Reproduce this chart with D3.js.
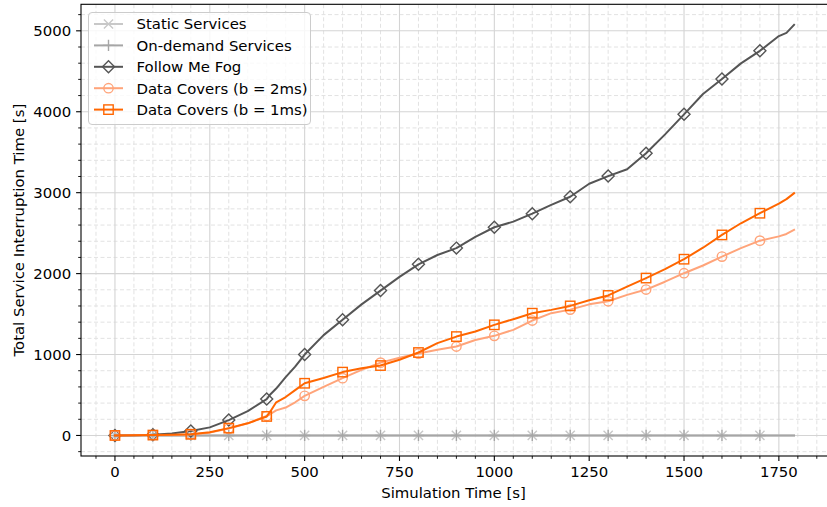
<!DOCTYPE html>
<html>
<head>
<meta charset="utf-8">
<script src="https://cdn.jsdelivr.net/npm/d3@7/dist/d3.min.js"></script>
<style>
  html, body { margin: 0; padding: 0; background: #fff; }
  svg { display: block; font-family: "DejaVu Sans", sans-serif; }
</style>
</head>
<body>
<svg id="chart" width="827" height="507"></svg>
<script>
// Simulation time samples [s]
const times = [0, 50, 100, 150, 200, 250, 300, 350, 400, 410, 425, 450, 475, 500, 550, 600, 650, 700, 750,
  800, 850, 900, 950, 1000, 1050, 1100, 1150, 1200, 1250, 1300, 1350, 1400, 1450, 1500, 1550,
  1600, 1650, 1700, 1750, 1770, 1790];

// Total service interruption time [s] per strategy
const staticServices = times.map(() => 0);
const onDemandServices = times.map(() => 0);
const followMeFog = [0, 3, 10, 25, 55, 100, 190, 300, 450, 510, 580, 720, 850, 1000, 1240, 1430, 1620, 1790, 1960,
  2115, 2230, 2315, 2455, 2573, 2642, 2741, 2850, 2950, 3110, 3205, 3290, 3488, 3720, 3968, 4220,
  4405, 4598, 4753, 4935, 4975, 5074];
const dataCovers2ms = [0, 2, 5, 7, 12, 35, 85, 150, 240, 265, 310, 345, 410, 490, 600, 708, 810, 900, 960,
  1012, 1060, 1099, 1180, 1231, 1305, 1420, 1511, 1555, 1620, 1658, 1737, 1803, 1900, 2005, 2100,
  2210, 2315, 2407, 2460, 2490, 2540];
const dataCovers1ms = [0, 2, 5, 8, 15, 40, 91, 150, 235, 300, 410, 475, 560, 645, 710, 783, 830, 864, 935,
  1025, 1141, 1222, 1284, 1367, 1437, 1511, 1552, 1601, 1670, 1730, 1840, 1945, 2055, 2178, 2320,
  2478, 2622, 2746, 2865, 2920, 2993];

const seriesNames = ["Static Services", "On-demand Services", "Follow Me Fog", "Data Covers (b = 2ms)", "Data Covers (b = 1ms)"];
const seriesValues = [staticServices, onDemandServices, followMeFog, dataCovers2ms, dataCovers1ms];
const seriesColors = ["#c8c8c8", "#a6a6a6", "#555555", "#ffa47a", "#ff6600"];
const seriesMarkers = ["x", "plus", "diamond", "circle", "square"];

const xTicks = [0, 250, 500, 750, 1000, 1250, 1500, 1750];
const yTicks = [0, 1000, 2000, 3000, 4000, 5000];
const markerEvery = 100;

const svg = d3.select("#chart");
const plot = { left: 81, right: 828, top: 4.3, bottom: 456 };

const x = d3.scaleLinear().domain([-89.5, 1879.5]).range([plot.left, plot.right]);
const y = d3.scaleLinear().domain([-253.7, 5327.7]).range([plot.bottom, plot.top]);

const fontSize = 14.9;

svg.append("defs").append("clipPath").attr("id", "clip")
  .append("rect").attr("x", plot.left).attr("y", plot.top)
  .attr("width", plot.right - plot.left).attr("height", plot.bottom - plot.top);

const xMinor = d3.range(-50, 1880, 50).filter(v => !xTicks.includes(v));
const yMinor = d3.range(-200, 5400, 200).filter(v => !yTicks.includes(v));

// grid
const grid = svg.append("g").attr("clip-path", "url(#clip)");
grid.selectAll(".xmg").data(xMinor).enter().append("line")
  .attr("x1", d => x(d)).attr("x2", d => x(d)).attr("y1", plot.top).attr("y2", plot.bottom)
  .attr("stroke", "#e2e2e2").attr("stroke-width", 1).attr("stroke-dasharray", "4,2.5");
grid.selectAll(".ymg").data(yMinor).enter().append("line")
  .attr("y1", d => y(d)).attr("y2", d => y(d)).attr("x1", plot.left).attr("x2", plot.right)
  .attr("stroke", "#e2e2e2").attr("stroke-width", 1).attr("stroke-dasharray", "4,2.5");
grid.selectAll(".xg").data(xTicks).enter().append("line")
  .attr("x1", d => x(d)).attr("x2", d => x(d)).attr("y1", plot.top).attr("y2", plot.bottom)
  .attr("stroke", "#d4d4d4").attr("stroke-width", 1.1);
grid.selectAll(".yg").data(yTicks).enter().append("line")
  .attr("y1", d => y(d)).attr("y2", d => y(d)).attr("x1", plot.left).attr("x2", plot.right)
  .attr("stroke", "#d4d4d4").attr("stroke-width", 1.1);

// marker drawing
function drawMarker(g, type, cx, cy, color) {
  const s = 4.6;
  if (type === "x") {
    g.append("path").attr("d", `M${cx - s},${cy - s}L${cx + s},${cy + s}M${cx - s},${cy + s}L${cx + s},${cy - s}`)
      .attr("stroke", color).attr("stroke-width", 1.4).attr("fill", "none");
  } else if (type === "plus") {
    const p = 5.6;
    g.append("path").attr("d", `M${cx - p},${cy}L${cx + p},${cy}M${cx},${cy - p}L${cx},${cy + p}`)
      .attr("stroke", color).attr("stroke-width", 1.4).attr("fill", "none");
  } else if (type === "diamond") {
    const d = 6;
    g.append("path").attr("d", `M${cx},${cy - d}L${cx + d},${cy}L${cx},${cy + d}L${cx - d},${cy}Z`)
      .attr("stroke", color).attr("stroke-width", 1.4).attr("fill", "none");
  } else if (type === "circle") {
    g.append("circle").attr("cx", cx).attr("cy", cy).attr("r", 4.7)
      .attr("stroke", color).attr("stroke-width", 1.4).attr("fill", "none");
  } else if (type === "square") {
    const q = 4.7;
    g.append("rect").attr("x", cx - q).attr("y", cy - q).attr("width", 2 * q).attr("height", 2 * q)
      .attr("stroke", color).attr("stroke-width", 1.4).attr("fill", "none");
  }
}

// series
const lineGen = d3.line().x(d => x(d[0])).y(d => y(d[1]));
const marks = svg.append("g").attr("clip-path", "url(#clip)");
seriesValues.forEach((vals, i) => {
  const pts = times.map((t, j) => [t, vals[j]]);
  const g = marks.append("g");
  g.append("path").datum(pts).attr("d", lineGen)
    .attr("fill", "none").attr("stroke", seriesColors[i]).attr("stroke-width", 2)
    .attr("stroke-linejoin", "round").attr("stroke-linecap", "square");
  pts.filter(p => p[0] % markerEvery === 0).forEach(p => {
    drawMarker(g, seriesMarkers[i], x(p[0]), y(p[1]), seriesColors[i]);
  });
});

// axes
const axisG = svg.append("g");
// spines
axisG.append("rect").attr("x", plot.left).attr("y", plot.top)
  .attr("width", plot.right - plot.left).attr("height", plot.bottom - plot.top)
  .attr("fill", "none").attr("stroke", "#000").attr("stroke-width", 1.1);

// x ticks
axisG.selectAll(".xt").data(xTicks).enter().append("line")
  .attr("x1", d => x(d)).attr("x2", d => x(d)).attr("y1", plot.bottom).attr("y2", plot.bottom + 4.9)
  .attr("stroke", "#000").attr("stroke-width", 1.1);
axisG.selectAll(".xmt").data(xMinor).enter().append("line")
  .attr("x1", d => x(d)).attr("x2", d => x(d)).attr("y1", plot.bottom).attr("y2", plot.bottom + 2.8)
  .attr("stroke", "#000").attr("stroke-width", 0.9);
axisG.selectAll(".xl").data(xTicks).enter().append("text")
  .attr("x", d => x(d)).attr("y", plot.bottom + 9.6).attr("dy", "0.76em")
  .attr("text-anchor", "middle").attr("font-size", fontSize).attr("fill", "#000")
  .text(d => d);

// y ticks
axisG.selectAll(".yt").data(yTicks).enter().append("line")
  .attr("y1", d => y(d)).attr("y2", d => y(d)).attr("x1", plot.left).attr("x2", plot.left - 4.9)
  .attr("stroke", "#000").attr("stroke-width", 1.1);
axisG.selectAll(".ymt").data(yMinor).enter().append("line")
  .attr("y1", d => y(d)).attr("y2", d => y(d)).attr("x1", plot.left).attr("x2", plot.left - 2.8)
  .attr("stroke", "#000").attr("stroke-width", 0.9);
axisG.selectAll(".yl").data(yTicks).enter().append("text")
  .attr("x", plot.left - 9.8).attr("y", d => y(d)).attr("dy", "0.36em")
  .attr("text-anchor", "end").attr("font-size", fontSize).attr("fill", "#000")
  .text(d => d);

// axis titles
svg.append("text").attr("x", (plot.left + plot.right) / 2 - 1).attr("y", 498)
  .attr("text-anchor", "middle").attr("font-size", fontSize).text("Simulation Time [s]");
svg.append("text").attr("transform", `translate(24,${(plot.top + plot.bottom) / 2}) rotate(-90)`)
  .attr("text-anchor", "middle").attr("font-size", fontSize).text("Total Service Interruption Time [s]");

// legend
const lg = svg.append("g");
lg.append("rect").attr("x", 88.5).attr("y", 12.5).attr("width", 222).attr("height", 112).attr("rx", 3.5)
  .attr("fill", "rgba(255,255,255,0.8)").attr("stroke", "#cccccc").attr("stroke-width", 1);
seriesNames.forEach((name, i) => {
  const cy = 24 + i * 21.4;
  lg.append("line").attr("x1", 94).attr("x2", 123).attr("y1", cy).attr("y2", cy)
    .attr("stroke", seriesColors[i]).attr("stroke-width", 2);
  drawMarker(lg, seriesMarkers[i], 108.5, cy, seriesColors[i]);
  lg.append("text").attr("x", 136.5).attr("y", cy).attr("dy", "0.36em")
    .attr("font-size", fontSize).attr("fill", "#000").text(name);
});
</script>
</body>
</html>
